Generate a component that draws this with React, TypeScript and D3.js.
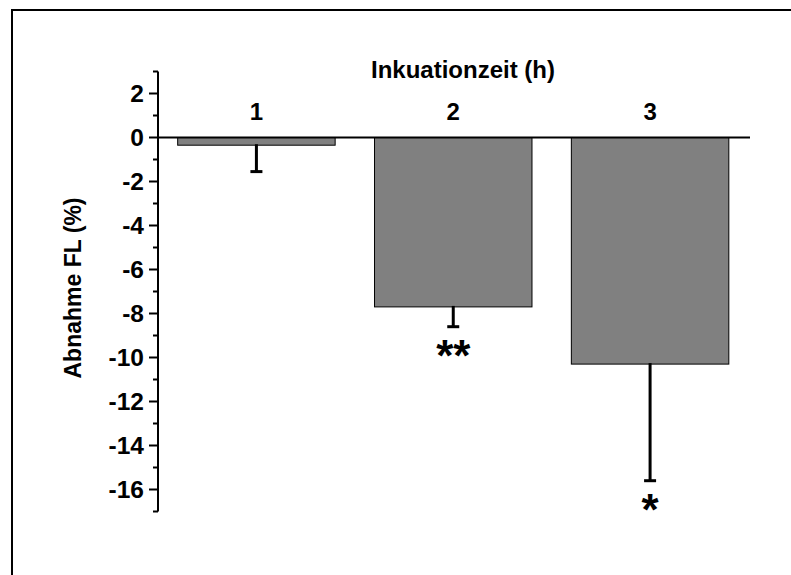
import React from 'react';
import * as d3 from 'd3';

const categories = ['1', '2', '3'];
const means = [-0.35, -7.7, -10.3];
const errors = [1.2, 0.9, 5.3];
const stars = ['', '**', '*'];
const majorTicks = [2, 0, -2, -4, -6, -8, -10, -12, -14, -16];
const minorTicks = [3, 1, -1, -3, -5, -7, -9, -11, -13, -15, -17];

const width = 791;
const height = 575;
const font = "'Liberation Sans', Arial, sans-serif";

export default function App() {
  const axisX = 158;
  const x = d3.scaleBand<string>()
    .domain(categories)
    .range([axisX, 748.5])
    .paddingInner(0.2)
    .paddingOuter(0.1);
  const y = d3.scaleLinear().domain([-17, 3]).range([511.5, 71.5]);

  return (
    <svg
      width={width}
      height={height}
      style={{ position: 'absolute', left: 0, top: 0, background: '#fff' }}
    >
      {/* frame, runs off the right and bottom edge */}
      <rect x={12} y={10} width={900} height={700} fill="none" stroke="#000" strokeWidth={2} />

      {/* bars */}
      {categories.map((c, i) => (
        <rect
          key={c}
          x={x(c)}
          y={y(0)}
          width={x.bandwidth()}
          height={y(means[i]) - y(0)}
          fill="#808080"
          stroke="#000"
          strokeWidth={1}
        />
      ))}

      {/* error bars */}
      {categories.map((c, i) => {
        const cx = (x(c) as number) + x.bandwidth() / 2;
        const end = y(means[i] - errors[i]);
        return (
          <g key={'e' + c} stroke="#000" strokeWidth={3}>
            <line x1={cx} x2={cx} y1={y(means[i]) - 1} y2={end} />
            <line x1={cx - 6} x2={cx + 6} y1={end} y2={end} />
          </g>
        );
      })}

      {/* zero line */}
      <line x1={axisX} x2={750} y1={y(0)} y2={y(0)} stroke="#000" strokeWidth={2} />

      {/* y axis */}
      <line x1={axisX} x2={axisX} y1={y(3)} y2={y(-17)} stroke="#000" strokeWidth={2} />
      {majorTicks.map(t => (
        <g key={'M' + t}>
          <line x1={axisX - 9} x2={axisX} y1={y(t)} y2={y(t)} stroke="#000" strokeWidth={2} />
          <text
            x={axisX - 14}
            y={y(t)}
            dy="0.36em"
            textAnchor="end"
            fontFamily={font}
            fontWeight="bold"
            fontSize={24.5}
          >
            {t}
          </text>
        </g>
      ))}
      {minorTicks.map(t => (
        <line key={'m' + t} x1={axisX - 5} x2={axisX} y1={y(t)} y2={y(t)} stroke="#000" strokeWidth={2} />
      ))}

      {/* category labels above the zero line */}
      {categories.map(c => (
        <text
          key={'c' + c}
          x={(x(c) as number) + x.bandwidth() / 2}
          y={120}
          textAnchor="middle"
          fontFamily={font}
          fontWeight="bold"
          fontSize={24}
        >
          {c}
        </text>
      ))}

      {/* significance marks */}
      {categories.map((c, i) =>
        stars[i] ? (
          <text
            key={'s' + c}
            x={(x(c) as number) + x.bandwidth() / 2}
            y={y(means[i] - errors[i]) + 44}
            textAnchor="middle"
            fontFamily={font}
            fontWeight="bold"
            fontSize={44}
          >
            {stars[i]}
          </text>
        ) : null
      )}

      <text x={463} y={78} textAnchor="middle" fontFamily={font} fontWeight="bold" fontSize={24}>
        Inkuationzeit (h)
      </text>
      <text
        transform={`translate(81, 288) rotate(-90)`}
        textAnchor="middle"
        fontFamily={font}
        fontWeight="bold"
        fontSize={23}
      >
        Abnahme FL (%)
      </text>
    </svg>
  );
}
